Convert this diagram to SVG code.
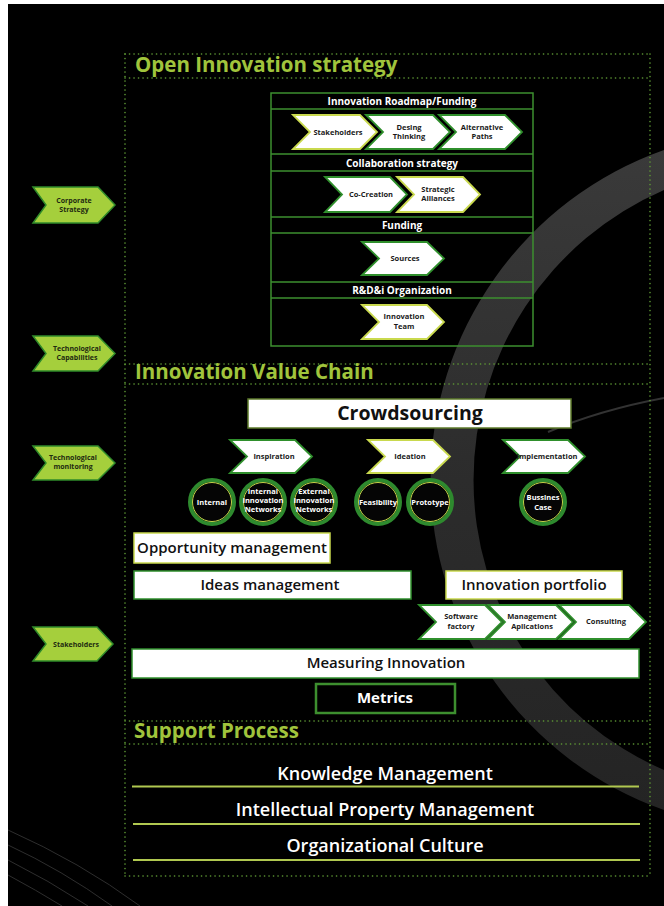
<svg xmlns="http://www.w3.org/2000/svg" width="664" height="906" viewBox="0 0 664 906">
<defs>
<linearGradient id="bandg" x1="0" y1="0" x2="0" y2="1">
<stop offset="0" stop-color="#3a3a3a"/>
<stop offset="0.5" stop-color="#2c2c2c"/>
<stop offset="1" stop-color="#242424"/>
</linearGradient>
</defs>
<style>
text{font-family:"Open Sans","Noto Sans","DejaVu Sans",sans-serif;font-weight:700}
.dot{stroke:#5f9a35;stroke-width:1.6;stroke-dasharray:0.1 4.4;stroke-linecap:round;fill:none}
.ttl{fill:#a0c43c;font-size:20.5px;font-weight:700}
.hdr{fill:#ffffff;font-size:10px;text-anchor:middle}
.chev{fill:#ffffff;stroke:#2f8f2c;stroke-width:1.8;stroke-linejoin:miter}
.chevy{fill:#ffffff;stroke:#c9d94e;stroke-width:1.8}
.ct{fill:#1a1a1a;font-size:7.5px;text-anchor:middle}
.lch{fill:#a5cf3c;stroke:#2f8a2a;stroke-width:1.5}
.lt{fill:#1e2a10;font-size:7px;text-anchor:middle}
.box{fill:#ffffff;stroke:#2f8f2c;stroke-width:1.5}
.boxy{fill:#ffffff;stroke:#c9d94e;stroke-width:1.5}
.bt{fill:#111111;font-size:15px;font-weight:600;text-anchor:middle}
.ring{fill:#050505;stroke:#2e8a2e;stroke-width:4}
.ring2{fill:none;stroke:#c5d64a;stroke-width:1}
.cir{fill:#ffffff;font-size:7.5px;text-anchor:middle}
.rb{fill:none;stroke:#3d8f2f;stroke-width:1.5}
.sl{stroke:#b0c850;stroke-width:2}
.st{fill:#ffffff;font-size:18px;font-weight:600;text-anchor:middle}
</style>
<rect x="0" y="0" width="664" height="906" fill="#ffffff"/>
<rect x="8" y="4" width="656" height="902" fill="#000000"/>
<g id="background">
<path d="M664,150 A350,350 0 0 0 664,810 L664,770 A316,316 0 0 1 664,190 Z" fill="url(#bandg)"/>
<path d="M548,432 Q600,410 664,398" stroke="#333333" stroke-width="2" fill="none"/>
<path d="M8,830 Q80,862 140,906 M8,845 Q62,870 112,906 M8,860 Q48,880 88,906 M8,875 Q36,890 62,906" stroke="#3a3a3a" stroke-width="0.8" fill="none"/>
</g>
<g id="frame">
<line class="dot" x1="125" y1="54" x2="650" y2="54"/>
<line class="dot" x1="125" y1="78" x2="650" y2="78"/>
<line class="dot" x1="125" y1="364" x2="650" y2="364"/>
<line class="dot" x1="125" y1="384" x2="650" y2="384"/>
<line class="dot" x1="125" y1="721" x2="650" y2="721"/>
<line class="dot" x1="125" y1="744" x2="650" y2="744"/>
<line class="dot" x1="125" y1="876" x2="650" y2="876"/>
<line class="dot" x1="125" y1="54" x2="125" y2="876"/>
<line class="dot" x1="650" y1="54" x2="650" y2="876"/>
<text class="ttl" x="135" y="72">Open Innovation strategy</text>
<text class="ttl" x="135" y="379">Innovation Value Chain</text>
<text class="ttl" x="134" y="738">Support Process</text>
</g>
<g id="roadmap">
<rect class="rb" x="271" y="93" width="262" height="253"/>
<line class="rb" x1="271" y1="109" x2="533" y2="109"/>
<line class="rb" x1="271" y1="154" x2="533" y2="154"/>
<line class="rb" x1="271" y1="171" x2="533" y2="171"/>
<line class="rb" x1="271" y1="217" x2="533" y2="217"/>
<line class="rb" x1="271" y1="233" x2="533" y2="233"/>
<line class="rb" x1="271" y1="282" x2="533" y2="282"/>
<line class="rb" x1="271" y1="298" x2="533" y2="298"/>
<text class="hdr" x="402" y="105">Innovation Roadmap/Funding</text>
<text class="hdr" x="402" y="167">Collaboration strategy</text>
<text class="hdr" x="402" y="229">Funding</text>
<text class="hdr" x="402" y="294">R&amp;D&amp;i Organization</text>
</g>
<g id="rm-stakeholders"><path class="chevy" d="M293,115 H360 L377,132 L360,149 H293 L310,132 Z"/><text class="ct" x="338" y="135">Stakeholders</text></g>
<g id="rm-design"><path class="chev" d="M366,115 H433 L450,132 L433,149 H366 L383,132 Z"/><text class="ct" x="409" y="130">Desing</text><text class="ct" x="409" y="139">Thinking</text></g>
<g id="rm-paths"><path class="chev" d="M439,115 H505 L522,132 L505,149 H439 L456,132 Z"/><text class="ct" x="482" y="130">Alternative</text><text class="ct" x="482" y="139">Paths</text></g>
<g id="rm-cocreation"><path class="chev" d="M325,177 H390 L407,194.5 L390,212 H325 L342,194.5 Z"/><text class="ct" x="371" y="197">Co-Creation</text></g>
<g id="rm-alliances"><path class="chevy" d="M397,177 H463 L480,194.5 L463,212 H397 L414,194.5 Z"/><text class="ct" x="438" y="192">Strategic</text><text class="ct" x="438" y="201">Alliances</text></g>
<g id="rm-sources"><path class="chev" d="M362,242 H427 L444,258.5 L427,275 H362 L379,258.5 Z"/><text class="ct" x="405" y="261">Sources</text></g>
<g id="rm-team"><path class="chevy" d="M362,305 H427 L444,322 L427,339 H362 L379,322 Z"/><text class="ct" x="404" y="319">Innovation</text><text class="ct" x="404" y="329">Team</text></g>
<g id="corporate-strategy"><path class="lch" d="M33,187 H98 L115,205 L98,223 H33 L46,205 Z"/><text class="lt" x="74" y="203">Corporate</text><text class="lt" x="74" y="212">Strategy</text></g>
<g id="tech-capabilities"><path class="lch" d="M33,336 H98 L115,353.5 L98,371 H33 L46,353.5 Z"/><text class="lt" x="77" y="351">Technological</text><text class="lt" x="77" y="360">Capabilities</text></g>
<g id="tech-monitoring"><path class="lch" d="M33,446 H98 L115,463 L98,480 H33 L46,463 Z"/><text class="lt" x="73" y="460">Technological</text><text class="lt" x="73" y="469">monitoring</text></g>
<g id="stakeholders-left"><path class="lch" d="M33,627 H97 L113,644 L97,661 H33 L46,644 Z"/><text class="lt" x="76" y="647">Stakeholders</text></g>
<g id="crowdsourcing"><rect x="248" y="399" width="323" height="29" fill="#ffffff" stroke="#5c7a2a" stroke-width="1.5"/><text x="410" y="420" fill="#111" font-size="19.5" font-weight="600" text-anchor="middle">Crowdsourcing</text></g>
<g id="inspiration"><path class="chev" d="M230,440 H295 L312,456.5 L295,473 H230 L247,456.5 Z"/><text class="ct" x="274" y="459">Inspiration</text></g>
<g id="ideation"><path class="chevy" d="M368,440 H433 L450,456.5 L433,473 H368 L385,456.5 Z"/><text class="ct" x="410" y="459">Ideation</text></g>
<g id="implementation"><path class="chev" d="M503,440 H568 L585,456.5 L568,473 H503 L520,456.5 Z"/><text class="ct" x="547" y="459">Implementation</text></g>
<g id="c-internal"><circle class="ring" cx="212" cy="502" r="22"/><circle class="ring2" cx="212" cy="502" r="19.5"/><text class="cir" x="212" y="505">Internal</text></g>
<g id="c-internal-net"><circle class="ring" cx="263" cy="502" r="22"/><circle class="ring2" cx="263" cy="502" r="19.5"/><text class="cir" x="263" y="494">Internal</text><text class="cir" x="263" y="503">innovation</text><text class="cir" x="263" y="512">Networks</text></g>
<g id="c-external-net"><circle class="ring" cx="314" cy="502" r="22"/><circle class="ring2" cx="314" cy="502" r="19.5"/><text class="cir" x="314" y="494">External</text><text class="cir" x="314" y="503">innovation</text><text class="cir" x="314" y="512">Networks</text></g>
<g id="c-feasibility"><circle class="ring" cx="378" cy="502" r="22"/><circle class="ring2" cx="378" cy="502" r="19.5"/><text class="cir" x="378" y="505">Feasibility</text></g>
<g id="c-prototype"><circle class="ring" cx="430" cy="502" r="22"/><circle class="ring2" cx="430" cy="502" r="19.5"/><text class="cir" x="430" y="505">Prototype</text></g>
<g id="c-business"><circle class="ring" cx="543" cy="502" r="22"/><circle class="ring2" cx="543" cy="502" r="19.5"/><text class="cir" x="543" y="500">Bussines</text><text class="cir" x="543" y="510">Case</text></g>
<g id="opportunity"><rect class="boxy" x="134" y="533" width="196" height="30"/><text class="bt" x="232" y="553">Opportunity management</text></g>
<g id="ideas"><rect class="box" x="134" y="571" width="277" height="28"/><text class="bt" x="270" y="590">Ideas management</text></g>
<g id="portfolio"><rect class="boxy" x="446" y="571" width="176" height="28"/><text class="bt" x="534" y="590" font-size="15.5">Innovation portfolio</text></g>
<g id="software"><path class="chev" d="M419,605 H485 L502,622 L485,639 H419 L436,622 Z"/><text class="ct" x="461" y="619">Software</text><text class="ct" x="461" y="629">factory</text></g>
<g id="management-apps"><path class="chev" d="M488,605 H556 L573,622 L556,639 H488 L505,622 Z"/><text class="ct" x="532" y="619">Management</text><text class="ct" x="532" y="629">Aplications</text></g>
<g id="consulting"><path class="chev" d="M559,605 H629 L646,622 L629,639 H559 L576,622 Z"/><text class="ct" x="606" y="624">Consulting</text></g>
<g id="measuring"><rect class="box" x="132" y="649" width="507" height="29"/><text class="bt" x="386" y="668">Measuring Innovation</text></g>
<g id="metrics"><rect x="316" y="684" width="139" height="29" fill="#000" stroke="#3d8f2f" stroke-width="2.5"/><text x="385" y="703" fill="#fff" font-size="15" font-weight="600" text-anchor="middle">Metrics</text></g>
<g id="knowledge"><text class="st" x="385" y="780">Knowledge Management</text><line class="sl" x1="132" y1="786.5" x2="639" y2="786.5"/></g>
<g id="ip"><text class="st" x="385" y="816">Intellectual Property Management</text><line class="sl" x1="133" y1="824" x2="640" y2="824"/></g>
<g id="culture"><text class="st" x="385" y="852">Organizational Culture</text><line class="sl" x1="133" y1="860" x2="640" y2="860"/></g>
</svg>
